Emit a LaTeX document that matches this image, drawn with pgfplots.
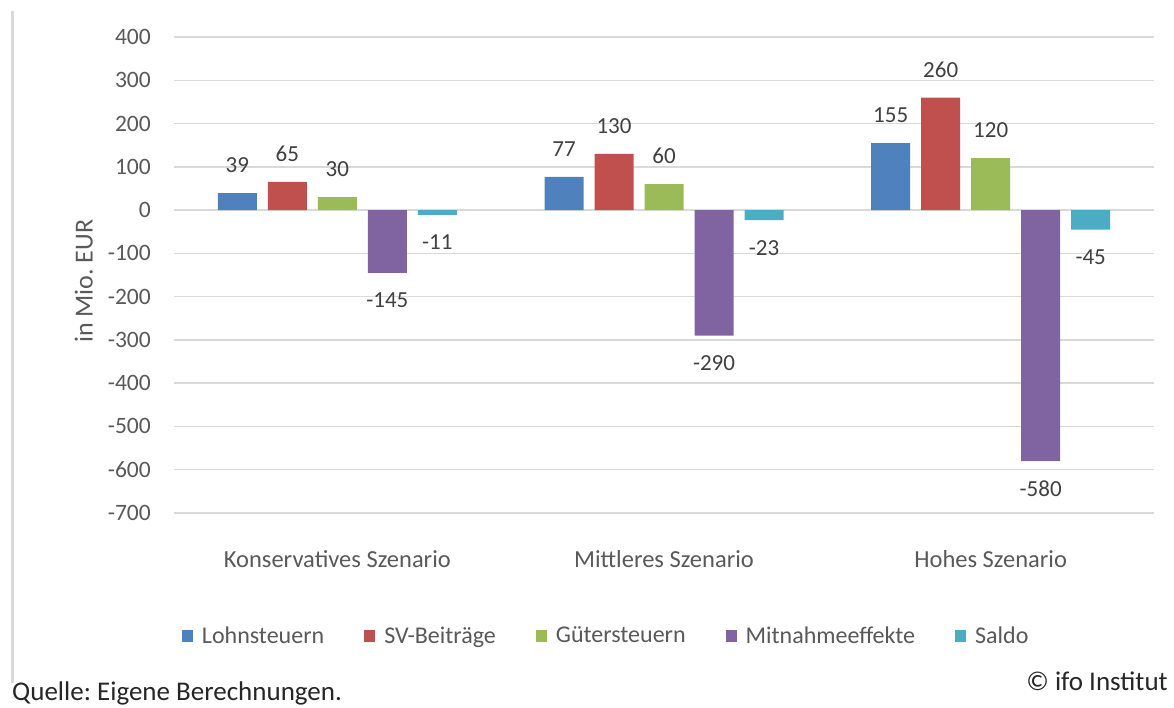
\documentclass[border=0pt]{standalone}
\usepackage{fontspec}
\setmainfont{Carlito}
\usepackage{pgfplots}
\pgfplotsset{compat=1.18}
\definecolor{cblue}{HTML}{4F81BD}
\definecolor{cred}{HTML}{C0504D}
\definecolor{cgreen}{HTML}{9BBB59}
\definecolor{cpurple}{HTML}{8064A2}
\definecolor{ccyan}{HTML}{4BACC6}
\definecolor{gridc}{HTML}{D9D9D9}
\definecolor{tickc}{HTML}{595959}
\definecolor{labc}{HTML}{404040}
\definecolor{darkc}{HTML}{262626}
\frenchspacing
\begin{document}
\begin{tikzpicture}[x=1pt,y=1pt]
\useasboundingbox (0,0) rectangle (1174,708);
\draw[gridc, line width=3pt] (12,25) -- (12,697);
\begin{axis}[
  at={(174pt,195pt)}, anchor=south west,
  scale only axis, width=980pt, height=476pt,
  xmin=-0.5, xmax=2.5, ymin=-700, ymax=400,
  ytick={-700,-600,...,400},
  yticklabels={-700,-600,-500,-400,-300,-200,-100,0,100,200,300,400},
  xtick={0,1,2},
  xticklabels={Konservatives Szenario, Mittleres Szenario, Hohes Szenario},
  ymajorgrids, grid style={line width=1.5pt, gridc},
  axis line style={draw=none}, tick style={draw=none}, major tick length=0pt,
  yticklabel style={font=\fontsize{23.5}{24}\selectfont, text=tickc, anchor=east, inner sep=0pt, xshift=-23pt},
  xticklabel style={font=\fontsize{24.5}{25}\selectfont, text=tickc, anchor=base, inner sep=0pt, yshift=-55pt},
  ylabel={in Mio. EUR},
  ylabel style={font=\fontsize{26}{27}\selectfont, text=tickc, at={(axis description cs:-0.092,0.487)}, anchor=center},
  ybar=11pt, bar width=39pt,
  /pgf/number format/assume math mode=true,
  nodes near coords,
  every node near coord/.append style={font=\fontsize{23}{24}\selectfont, text=labc, inner ysep=20pt},
  legend columns=-1,
  legend style={at={(axis description cs:0.44,-0.258)}, anchor=center, draw=none,
    font=\fontsize{24}{25}\selectfont, text=tickc,
    nodes={inner sep=0pt},
    /tikz/every odd column/.append style={column sep=9pt},
    /tikz/every even column/.append style={column sep=40pt}},
  legend image code/.code={\fill[#1] (0pt,-6pt) rectangle (11pt,6pt);},
]
\addplot[fill=cblue, draw=none] coordinates {(0,39) (1,77) (2,155)};
\addplot[fill=cred, draw=none] coordinates {(0,65) (1,130) (2,260)};
\addplot[fill=cgreen, draw=none] coordinates {(0,30) (1,60) (2,120)};
\addplot[fill=cpurple, draw=none] coordinates {(0,-145) (1,-290) (2,-580)};
\addplot[fill=ccyan, draw=none] coordinates {(0,-11) (1,-23) (2,-45)};
\legend{Lohnsteuern, SV-Beiträge, Gütersteuern, Mitnahmeeffekte, Saldo}
\end{axis}
\node[anchor=base west, inner sep=0pt, text=darkc, font=\fontsize{27}{28}\selectfont] at (12,7) {Quelle: Eigene Berechnungen.};
\node[anchor=base east, inner sep=0pt, text=darkc, font=\fontsize{27}{28}\selectfont] at (1168,17) {© ifo Institut};
\end{tikzpicture}
\end{document}
